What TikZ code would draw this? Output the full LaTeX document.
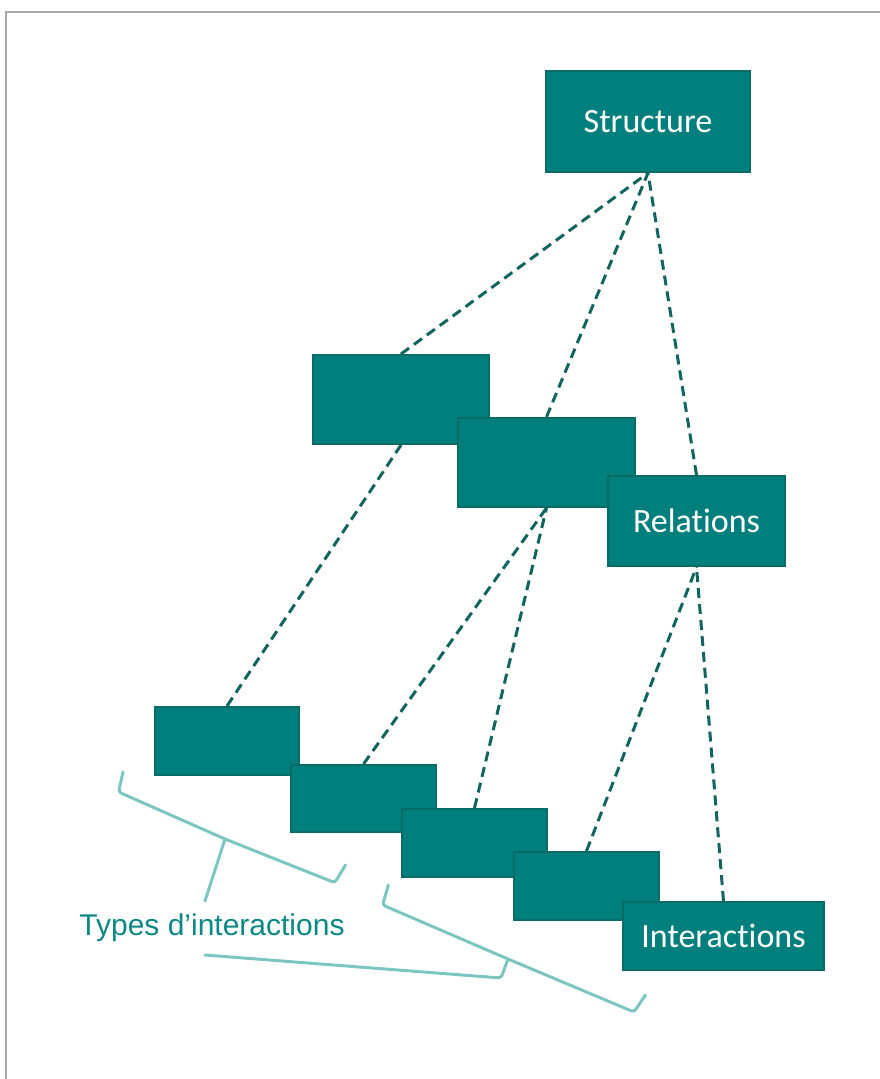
\documentclass[tikz,border=0pt]{standalone}
\usepackage{fontspec}
\newfontfamily\calibri[Ligatures=NoCommon]{Carlito}
\newfontfamily\arialf{Liberation Sans}
\definecolor{boxfill}{HTML}{007F7C}
\definecolor{boxline}{HTML}{086B66}
\definecolor{dashcol}{HTML}{12645E}
\definecolor{bracecol}{HTML}{7CC6C1}
\definecolor{labelcol}{HTML}{0B8883}
\definecolor{framecol}{HTML}{A8A8A8}
\tikzset{
  tbox/.style={draw=boxline, line width=2pt, fill=boxfill, text=white, inner sep=0pt,
    font=\calibri\fontsize{34}{40}\selectfont},
  link/.style={draw=dashcol, line width=3pt, dash pattern=on 10pt off 6pt},
  brace/.style={draw=bracecol, line width=3pt, rounded corners=3pt, line join=round, line cap=round},
}
\begin{document}
\begin{tikzpicture}[x=1pt,y=-1pt]
\useasboundingbox (0,0) rectangle (880,1079);
% page frame
\draw[framecol, line width=1.5pt] (6,1079) -- (6,12) -- (880,12);
% boxes
\node[tbox, minimum width=204pt, minimum height=101pt] (S) at (648,121.5) {Structure};
\node[tbox, minimum width=176pt, minimum height=89pt] (A) at (401,399.5) {};
\node[tbox, minimum width=177pt, minimum height=89pt] (B) at (546.5,462.5) {};
\node[tbox, minimum width=177pt, minimum height=90pt] (R) at (696.5,521) {Relations};
\node[tbox, minimum width=144pt, minimum height=68pt] (b1) at (227,741) {};
\node[tbox, minimum width=145pt, minimum height=67pt] (b2) at (363.5,798.5) {};
\node[tbox, minimum width=145pt, minimum height=68pt] (b3) at (474.5,843) {};
\node[tbox, minimum width=145pt, minimum height=68pt] (b4) at (586.5,886) {};
\node[tbox, minimum width=201pt, minimum height=68pt] (I) at (723.5,936) {Interactions};
% dashed links
\draw[link] (A.north) -- (S.south);
\draw[link] (B.north) -- (S.south);
\draw[link] (R.north) -- (S.south);
\draw[link] (b1.north) -- (A.south);
\draw[link] (b2.north) -- (B.south);
\draw[link] (b3.north) -- (B.south);
\draw[link] (b4.north) -- (R.south);
\draw[link] (I.north) -- (R.south);
% label
\node[text=labelcol, font=\arialf\fontsize{30}{36}\selectfont, inner sep=0pt] (T) at (212,928) {Types d’interactions};
% braces
\coordinate (tip1) at (225,839);
\coordinate (tip2) at (508,959);
\draw[brace] (123,772) -- (118.6,792) -- (tip1) -- (334.8,882.7) -- (345.5,865);
\draw[brace] (tip1) -- (205,901);
\draw[brace] (388.4,885) -- (382.6,905) -- (tip2) -- (634,1012) -- (645.5,995);
\draw[brace] (tip2) -- (501,978) -- (205,955);
\end{tikzpicture}
\end{document}
